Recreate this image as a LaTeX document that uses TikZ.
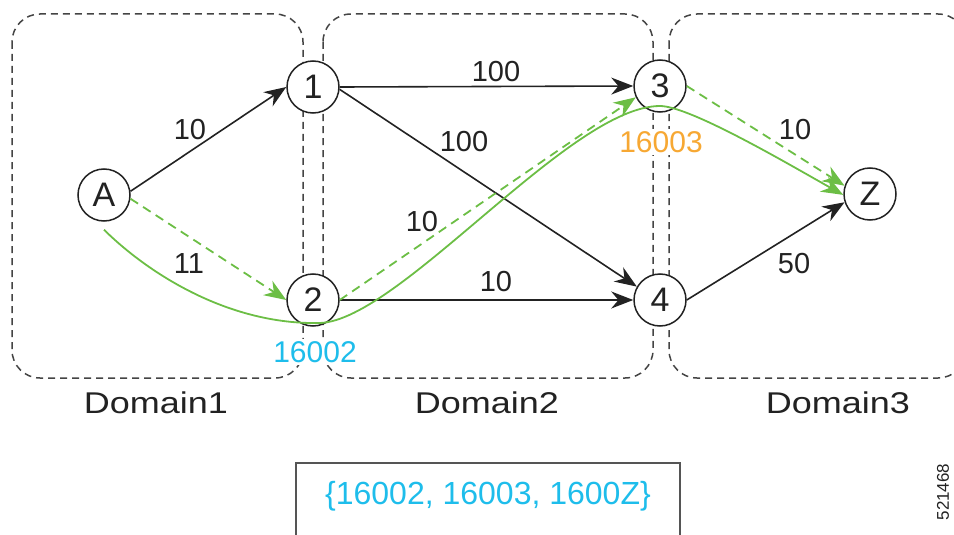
\documentclass[tikz,border=0pt]{standalone}
\usepackage{fontspec}
\usepackage{graphicx}
\setmainfont{Liberation Sans}
\usetikzlibrary{arrows.meta}
\definecolor{gr}{HTML}{6CBE45}
\definecolor{dk}{HTML}{222222}
\definecolor{dom}{HTML}{444444}
\definecolor{org}{HTML}{F7A833}
\definecolor{cy}{HTML}{1EBDEB}
\definecolor{boxc}{HTML}{555555}
\begin{document}
\begin{tikzpicture}[x=1pt,y=-1pt,
  nd/.style={circle,draw=dk,fill=white,line width=1.5pt,minimum size=52pt,inner sep=0pt,font=\fontsize{34}{34}\selectfont,text=dk},
  domainbox/.style={draw=dom,dash pattern=on 7pt off 5pt,line width=1.5pt,rounded corners=28pt},
  lbl/.style={font=\fontsize{29}{29}\selectfont,text=dk,inner sep=0pt},
  sid/.style={font=\fontsize{30}{30}\selectfont,fill=white,inner sep=2pt},
  domlbl/.style={font=\fontsize{30}{30}\selectfont,text=dk,inner sep=0pt},
  blk/.style={draw=dk,line width=1.6pt,-{Stealth[length=22pt,width=17pt]}},
  gdash/.style={draw=gr,line width=1.8pt,dash pattern=on 9pt off 6pt,-{Stealth[length=22pt,width=17pt]}},
  gsolid/.style={draw=gr,line width=1.8pt,-{Stealth[length=22pt,width=17pt]}},
]
\useasboundingbox (0,0) rectangle (954,535);
\clip (0,0) rectangle (954,535);
% domains
\draw[domainbox] (12,14) rectangle (303,378);
\draw[domainbox] (323,14) rectangle (653,378);
\draw[domainbox] (669,14) rectangle (966,378);
\node[domlbl] (d1) at (156,403) {\scalebox{1.2}[1]{Domain1}};
\node[domlbl] (d2) at (487,403) {\scalebox{1.2}[1]{Domain2}};
\node[domlbl] (d3) at (838,403) {\scalebox{1.2}[1]{Domain3}};
% SIDs
\node[sid,text=cy] (s2) at (315,352) {16002};
\node[sid,text=org] (s3) at (661,142) {16003};
% nodes
\node[nd] (A) at (104,195) {A};
\node[nd] (n1) at (313,87) {1};
\node[nd] (n2) at (313,300) {2};
\node[nd] (n3) at (660,86) {3};
\node[nd] (n4) at (660,300) {4};
\node[nd] (Z) at (870,194) {Z};
% black edges
\draw[blk] (A.8) -- (n1.west);
\draw[blk] (n1.east) -- (n3.west);
\draw[blk] (n1.-5) -- (n4.150);
\draw[blk] (n2.east) -- (n4.west);
\draw[blk] (n4.east) -- (Z.198);
% green dashed
\draw[gdash] (A.-8) -- (n2.west);
\draw[gdash] (n2.east) -- (n3.205);
\draw[gdash] (n3.east) -- (Z.162);
% green solid path
\draw[gsolid] ([yshift=-8pt]A.south) .. controls (150,275) and (230,325) .. (320,323)
  .. controls (400,320) and (570,106) .. (660,106)
  .. controls (690,106) and (790,165) .. (Z.182);
% edge labels
\node[lbl] (w1) at (190,130) {10};
\node[lbl] (w2) at (189,264) {11};
\node[lbl] (w3) at (496,72) {100};
\node[lbl] (w4) at (464,142) {100};
\node[lbl] (w5) at (422,222) {10};
\node[lbl] (w6) at (496,282) {10};
\node[lbl] (w7) at (795,130) {10};
\node[lbl] (w8) at (794,264) {50};
% label stack box
\draw[draw=boxc,line width=2pt] (296,463) rectangle (680,560);
\node[lbl,text=cy,font=\fontsize{32}{32}\selectfont] (stack) at (488,496) {\{16002, 16003, 1600Z\}};
\node[rotate=90,font=\fontsize{17}{17}\selectfont,text=dk,inner sep=0pt] (fig) at (943,492) {521468};
\end{tikzpicture}
\end{document}
